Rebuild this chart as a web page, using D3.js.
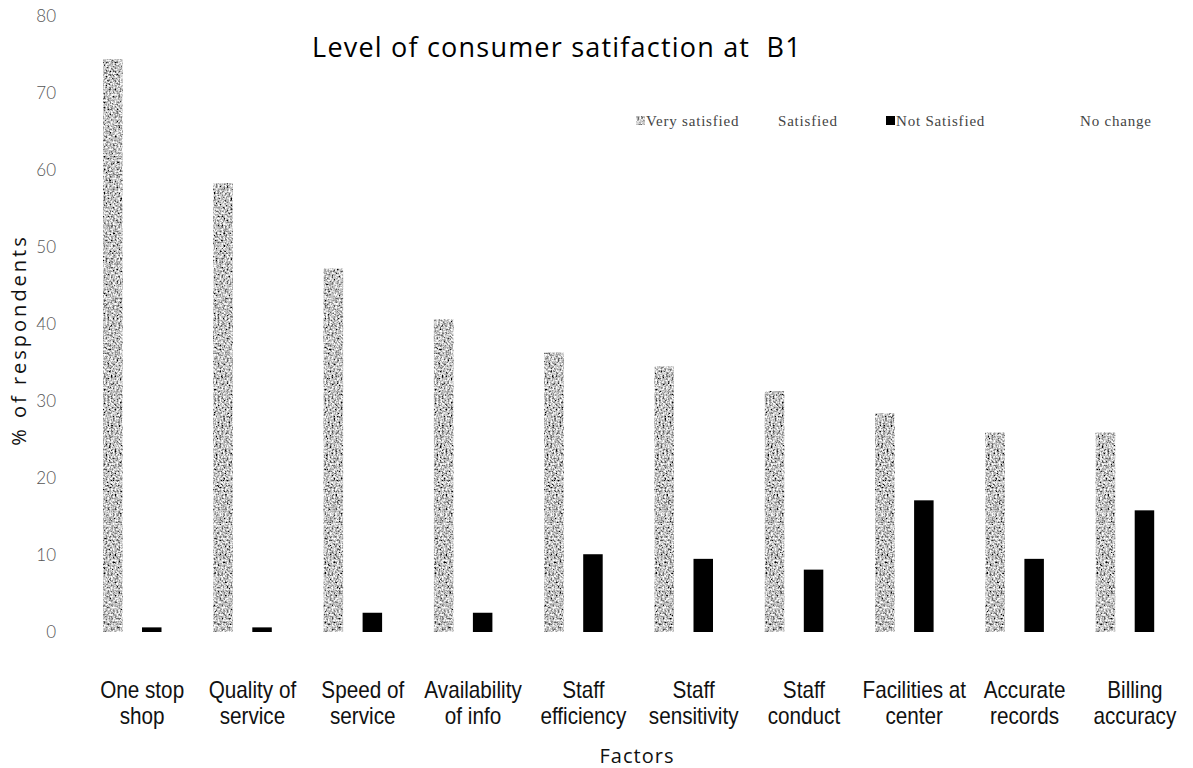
<!DOCTYPE html>
<html>
<head>
<meta charset="utf-8">
<script src="https://cdn.jsdelivr.net/npm/d3@7"></script>
<style>
  body { margin: 0; background: #fff; }
  svg { display: block; }
</style>
</head>
<body>
<div id="chart"></div>
<script>
// data
const categories = [
  ["One stop", "shop"],
  ["Quality of", "service"],
  ["Speed of", "service"],
  ["Availability", "of info"],
  ["Staff", "efficiency"],
  ["Staff", "sensitivity"],
  ["Staff", "conduct"],
  ["Facilities at", "center"],
  ["Accurate", "records"],
  ["Billing", "accuracy"],
];
const seriesNames = ["Very satisfied", "Satisfied", "Not Satisfied", "No change"];
const verySatisfied = [74.4, 58.3, 47.2, 40.6, 36.3, 34.5, 31.3, 28.4, 25.9, 25.9];
const notSatisfied = [0.6, 0.6, 2.5, 2.5, 10.1, 9.5, 8.1, 17.1, 9.5, 15.8];
const yTicks = [0, 10, 20, 30, 40, 50, 60, 70, 80];

const width = 1193, height = 768;

const svg = d3.select("#chart").append("svg")
  .attr("width", width)
  .attr("height", height);

// grainy grey like the scan
const defs = svg.append("defs");
const grain = defs.append("filter").attr("id", "grain")
  .attr("x", 0).attr("y", 0).attr("width", 1).attr("height", 1);
grain.append("feTurbulence")
  .attr("type", "fractalNoise")
  .attr("baseFrequency", 0.55)
  .attr("numOctaves", 2)
  .attr("seed", 3)
  .attr("result", "noise");
grain.append("feColorMatrix")
  .attr("in", "noise")
  .attr("type", "matrix")
  .attr("values", "2.1 0 0 0 -0.5  2.1 0 0 0 -0.5  2.1 0 0 0 -0.5  0 0 0 0 1")
  .attr("result", "grey");
grain.append("feComposite")
  .attr("in", "grey")
  .attr("in2", "SourceGraphic")
  .attr("operator", "in");

const keys = categories.map((d) => d.join(" "));

const x = d3.scaleBand()
  .domain(keys)
  .range([86, 1189])
  .padding(0);

const xs = d3.scaleBand()
  .domain(seriesNames)
  .range([17, 95])
  .padding(0);

const y = d3.scaleLinear()
  .domain([0, 80])
  .range([632, 16]);

const colors = {
  "Very satisfied": "#8c8c8c",
  "Satisfied": "#ffffff",
  "Not Satisfied": "#000000",
  "No change": "#ffffff",
};

// y axis labels only, no line
const yAxis = svg.append("g")
  .attr("transform", "translate(56,0)")
  .call(d3.axisLeft(y).tickValues(yTicks).tickSize(0).tickPadding(0))
  .call((g) => g.select(".domain").remove());
yAxis.selectAll("text")
  .attr("font-family", "Lato, 'Open Sans', sans-serif")
  .attr("font-size", 17)
  .attr("font-weight", 300)
  .attr("fill", "#555");

svg.append("text")
  .attr("transform", "translate(26,340) rotate(-90)")
  .attr("text-anchor", "middle")
  .attr("font-family", "'Open Sans', sans-serif")
  .attr("font-size", 20)
  .attr("letter-spacing", 3)
  .attr("fill", "#111")
  .text("% of respondents");

// bars
const groups = svg.append("g")
  .selectAll("g")
  .data(keys)
  .join("g")
  .attr("transform", (d) => `translate(${x(d)},0)`);

groups.append("rect")
  .attr("x", xs("Very satisfied"))
  .attr("width", xs.bandwidth())
  .attr("y", (d, i) => y(verySatisfied[i]))
  .attr("height", (d, i) => y(0) - y(verySatisfied[i]))
  .attr("fill", colors["Very satisfied"])
  .attr("filter", "url(#grain)");

groups.append("rect")
  .attr("x", xs("Not Satisfied"))
  .attr("width", xs.bandwidth())
  .attr("y", (d, i) => y(notSatisfied[i]))
  .attr("height", (d, i) => y(0) - y(notSatisfied[i]))
  .attr("fill", colors["Not Satisfied"]);

// category labels, two lines each, squeezed like the original
const xLabels = svg.append("g")
  .selectAll("text")
  .data(categories)
  .join("text")
  .attr("transform", (d, i) => `translate(${x(keys[i]) + x.bandwidth() / 2 + 1},698) scale(0.9,1)`)
  .attr("text-anchor", "middle")
  .attr("font-family", "'Liberation Sans', Arial, sans-serif")
  .attr("font-size", 23)
  .attr("fill", "#111");
xLabels.append("tspan").attr("x", 0).text((d) => d[0]);
xLabels.append("tspan")
  .attr("x", 0)
  .attr("dy", 26)
  .text((d) => d[1]);

svg.append("text")
  .attr("x", 637)
  .attr("y", 763)
  .attr("text-anchor", "middle")
  .attr("font-family", "'Open Sans', sans-serif")
  .attr("font-size", 20)
  .attr("letter-spacing", 1)
  .attr("fill", "#111")
  .text("Factors");

svg.append("text")
  .attr("x", 557)
  .attr("y", 57)
  .attr("text-anchor", "middle")
  .attr("font-family", "'Open Sans', sans-serif")
  .attr("font-size", 27)
  .attr("letter-spacing", 1.2)
  .attr("fill", "#000")
  .style("white-space", "pre")
  .text("Level of consumer satifaction at  B1");

// legend
const legendX = [636, 768, 886, 1070];
const legend = svg.append("g")
  .selectAll("g")
  .data(seriesNames)
  .join("g")
  .attr("transform", (d, i) => `translate(${legendX[i]},126)`);
legend.append("rect")
  .attr("x", 0)
  .attr("y", -10)
  .attr("width", 9)
  .attr("height", 9)
  .attr("fill", (d) => colors[d])
  .attr("filter", (d) => (d === "Very satisfied" ? "url(#grain)" : null));
legend.append("text")
  .attr("x", 10)
  .attr("y", 0)
  .attr("font-family", "'Liberation Serif', serif")
  .attr("font-size", 15)
  .attr("letter-spacing", 0.8)
  .attr("fill", "#444")
  .text((d) => d);
</script>
</body>
</html>
